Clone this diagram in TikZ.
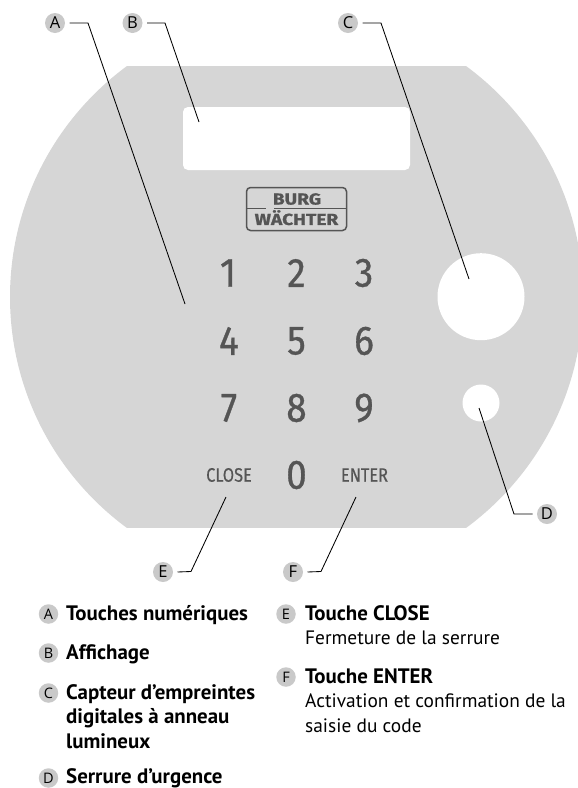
\documentclass[tikz,border=0pt]{standalone}
\usepackage{fontspec}
\setmainfont{PT Sans}
\newfontfamily\digitfont[FakeStretch=0.9,FakeBold=0.8]{Fira Sans}
\newfontfamily\keyfont[FakeStretch=0.84,FakeBold=0.3]{Fira Sans}
\newfontfamily\logofont[FakeStretch=1.2,FakeBold=0.8]{Fira Sans Bold}
\newfontfamily\badgefont{Open Sans}
\definecolor{body}{HTML}{D6D6D6}
\definecolor{badge}{HTML}{C9C9C9}
\definecolor{ink}{HTML}{555555}
\newcommand{\boldline}[1]{{\fontsize{20.9}{24.3}\selectfont\bfseries #1}}
\newcommand{\plainline}[1]{{\fontsize{19.4}{24.3}\selectfont #1}}
\tikzset{
  callout/.style={circle,fill=badge,minimum size=20pt,inner sep=0pt,outer sep=4.5pt,font=\badgefont\fontsize{16.5}{16.5}\selectfont,text=black},
  legendbadge/.style={circle,fill=badge,minimum size=19.5pt,inner sep=0pt,font=\badgefont\fontsize{14.5}{15}\selectfont,text=black},
  leader/.style={draw=black,line width=0.85pt,line join=miter},
  hole/.style={circle,fill=white,inner sep=0pt},
  digit/.style={font=\digitfont\fontsize{41}{41}\selectfont,text=ink,inner sep=0pt},
  keyword/.style={font=\keyfont\fontsize{19.5}{20}\selectfont,text=ink,inner sep=0pt},
  logotext/.style={inner sep=0pt,text=ink,font=\logofont\fontsize{16}{17}\selectfont},
  legendtext/.style={anchor=north west,inner sep=0pt,align=left,text=black,font=\fontsize{19.4}{24.3}\selectfont},
}
\begin{document}
\begin{tikzpicture}[x=1pt,y=-1pt]
\useasboundingbox (0,0) rectangle (578,788);
\begin{scope}
  \clip (0,0) rectangle (578,788);
  \clip (296.5,297) circle[radius=286.5pt];
  \fill[body] (0,66) rectangle (578,528);
\end{scope}
% openings
\node[fill=white,rounded corners=5pt,minimum width=227pt,minimum height=63pt,inner sep=0pt] (display) at (296.5,138.5) {};
\node[hole,minimum size=87pt] (reader) at (481,296.7) {};
\node[hole,minimum size=37pt] (lock) at (481,403) {};
% logo
\node[draw=ink,line width=1.5pt,rounded corners=4pt,minimum width=100pt,minimum height=43pt,inner sep=0pt] (logo) at (296.5,209) {};
\draw[ink,line width=1.3pt] (logo.west |- 0,208.5) -- (266,208.5) (274,208.5) -- (logo.east |- 0,208.5);
\node[logotext] (burg) at (297,199) {BURG};
\node[logotext] (wach) at (296.5,217.7) {WÄCHTER};
% keypad
\node[digit] (k1) at (228,273) {1};
\node[digit] (k2) at (296.5,273) {2};
\node[digit] (k3) at (364,273) {3};
\node[digit] (k4) at (229,341) {4};
\node[digit] (k5) at (296.5,341) {5};
\node[digit] (k6) at (364,341) {6};
\node[digit] (k7) at (229,408) {7};
\node[digit] (k8) at (296.5,408) {8};
\node[digit] (k9) at (364,408) {9};
\node[digit] (k0) at (296.5,475) {0};
\node[keyword] (close) at (229,475) {CLOSE};
\node[keyword] (enter) at (364.5,475) {ENTER};
% callouts
\node[callout] (A) at (55,23) {A};
\node[callout] (B) at (132.5,23) {B};
\node[callout] (C) at (348,23) {C};
\node[callout] (D) at (547,514) {D};
\node[callout] (E) at (163,572) {E};
\node[callout] (F) at (293,572) {F};
\coordinate (a1) at (88,23);
\coordinate (a2) at (185,304);
\coordinate (b1) at (165,23);
\coordinate (b2) at (199,122);
\coordinate (c1) at (381,23);
\coordinate (c2) at (469,279);
\coordinate (d1) at (514,514);
\coordinate (d2) at (479,408);
\coordinate (e1) at (191,571.5);
\coordinate (e2) at (226,497);
\coordinate (f1) at (321,571.5);
\coordinate (f2) at (356,497);
\draw[leader] (A.east) -- (a1) -- (a2);
\draw[leader] (B.east) -- (b1) -- (b2);
\draw[leader] (C.east) -- (c1) -- (c2);
\draw[leader] (D.west) -- (d1) -- (d2);
\draw[leader] (E.east) -- (e1) -- (e2);
\draw[leader] (F.east) -- (f1) -- (f2);
% legend
\node[legendbadge] (la) at (48.5,614) {A};
\node[legendbadge] (lb) at (48.5,653) {B};
\node[legendbadge] (lc) at (48.5,693) {C};
\node[legendbadge] (ld) at (48.5,778) {D};
\node[legendbadge] (le) at (286,614) {E};
\node[legendbadge] (lf) at (286,677) {F};
\node[legendtext] (ta) at (66,605.5) {\boldline{Touches numériques}};
\node[legendtext] (tb) at (66,644.5) {\boldline{Affichage}};
\node[legendtext] (tc) at (66,684.5) {\boldline{Capteur d’empreintes}\\\boldline{digitales à anneau}\\\boldline{lumineux}};
\node[legendtext] (td) at (66,768.5) {\boldline{Serrure d’urgence}};
\node[legendtext] (te) at (305,605.5) {\boldline{Touche CLOSE}\\\plainline{Fermeture de la serrure}};
\node[legendtext] (tf) at (305,668.5) {\boldline{Touche ENTER}\\\plainline{Activation et confirmation de la}\\\plainline{saisie du code}};
\end{tikzpicture}
\end{document}
